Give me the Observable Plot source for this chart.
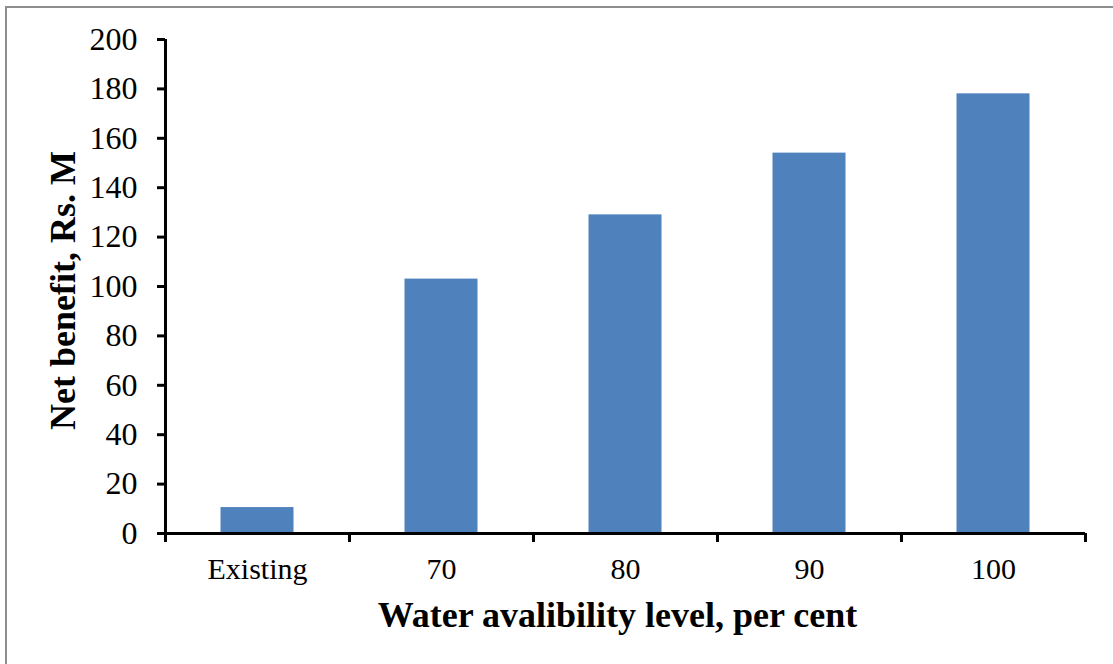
<!DOCTYPE html>
<html>
<head>
<meta charset="utf-8">
<script src="https://cdn.jsdelivr.net/npm/d3@7"></script>
<script src="https://cdn.jsdelivr.net/npm/@observablehq/plot@0.6"></script>
<style>
  html, body { margin: 0; padding: 0; background: #fff; overflow: hidden; }
  #wrap { position: relative; width: 1113px; height: 664px; }
  #border { position: absolute; left: 5px; top: 6px; width: 1200px; height: 800px;
            border-top: 2px solid #8e8e8e; border-left: 2px solid #8e8e8e; box-sizing: border-box; }
  #chart { position: absolute; left: 0; top: 0; }
</style>
</head>
<body>
<div id="wrap"><div id="border"></div><div id="chart"></div></div>
<script>
const categories = ["Existing", "70", "80", "90", "100"];
const netBenefit = [10.5, 103, 129, 154, 178];
const yTicks = [0, 20, 40, 60, 80, 100, 120, 140, 160, 180, 200];
const xTitle = "Water avalibility level, per cent";
const yTitle = "Net benefit, Rs. M";

const data = categories.map((c, i) => ({category: c, value: netBenefit[i]}));

const W = 1113, H = 664, mL = 165, mR = 28, mT = 39, mB = 131;
const half = (W - mL - mR) / categories.length / 2;

const plot = Plot.plot({
  width: W,
  height: H,
  marginLeft: mL,
  marginRight: mR,
  marginTop: mT,
  marginBottom: mB,
  style: {fontFamily: "'Liberation Serif', 'Times New Roman', serif", color: "#000", background: "transparent"},
  x: {domain: categories, padding: 0, label: null},
  y: {domain: [0, 200], label: null},
  marks: [
    Plot.barY(data, {x: "category", y: "value", fill: "#4f81bd", insetLeft: 55.5, insetRight: 55.5}),
    Plot.axisY({ticks: yTicks, tickSize: 8, tickPadding: 20, strokeWidth: 3, fontSize: 32, label: null}),
    Plot.ruleX([categories[0]], {dx: -half, y1: 0, y2: 200, strokeWidth: 3, stroke: "#000"}),
    Plot.ruleY([0], {strokeWidth: 3, stroke: "#000"}),
    Plot.axisX({tickSize: 9, dx: -half, text: null, strokeWidth: 3, label: null}),
    Plot.axisX({ticks: [categories[categories.length - 1]], tickSize: 9, dx: half, text: null, strokeWidth: 3, label: null}),
    Plot.axisX({tickSize: 0, tickPadding: 24, fontSize: 30, label: null}),
    Plot.text([yTitle], {frameAnchor: "left", dx: -102, dy: 4, rotate: -90, textAnchor: "middle", lineAnchor: "middle",
                         fontSize: 36, fontWeight: "bold", fill: "#000"}),
    Plot.text([xTitle], {frameAnchor: "bottom", dx: -8, dy: 82, textAnchor: "middle", lineAnchor: "middle",
                         fontSize: 36, fontWeight: "bold", fill: "#000"})
  ]
});
document.getElementById("chart").appendChild(plot);
</script>
</body>
</html>
